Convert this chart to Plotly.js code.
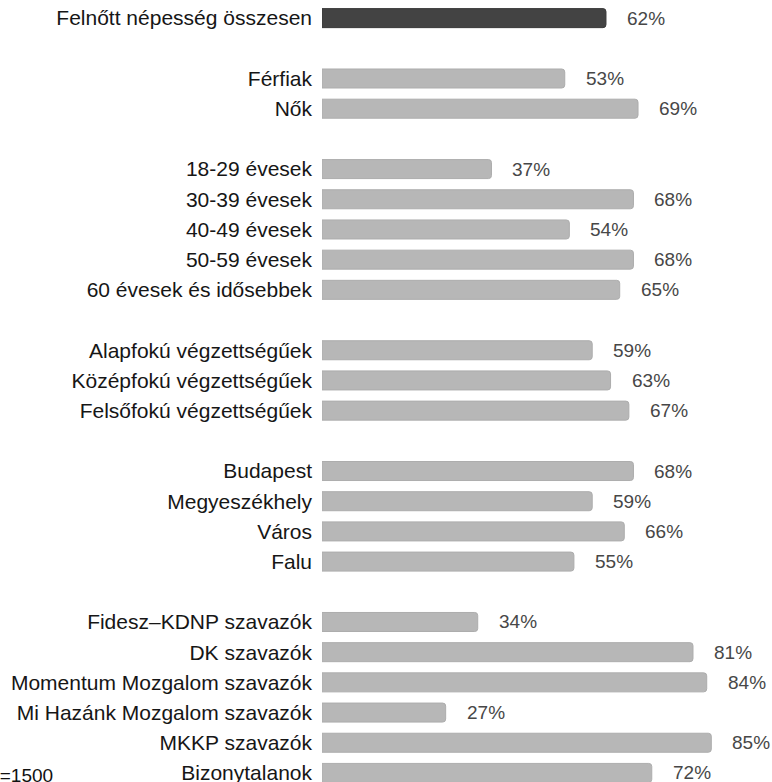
<!DOCTYPE html>
<html>
<head>
<meta charset="utf-8">
<script src="https://cdn.plot.ly/plotly-3.0.1.min.js"></script>
<style>html,body{margin:0;padding:0;background:#fff;}#chart{width:772px;height:782px;}</style>
</head>
<body>
<div id="chart"></div>
<script>
// categories (null = blank spacer row between groups)
const categories = [
  "Felnőtt népesség összesen", null,
  "Férfiak", "Nők", null,
  "18-29 évesek", "30-39 évesek", "40-49 évesek", "50-59 évesek", "60 évesek és idősebbek", null,
  "Alapfokú végzettségűek", "Középfokú végzettségűek", "Felsőfokú végzettségűek", null,
  "Budapest", "Megyeszékhely", "Város", "Falu", null,
  "Fidesz–KDNP szavazók", "DK szavazók", "Momentum Mozgalom szavazók", "Mi Hazánk Mozgalom szavazók", "MKKP szavazók", "Bizonytalanok"
];
const values = [
  62, null,
  53, 69, null,
  37, 68, 54, 68, 65, null,
  59, 63, 67, null,
  68, 59, 66, 55, null,
  34, 81, 84, 27, 85, 72
];
const highlight = [true];
const noteText = "N=1500";

const slots = [], vals = [], labels = [], colors = [], lineColors = [];
const tickvals = [], ticktext = [];
categories.forEach((c, i) => {
  if (c === null) return;
  slots.push(i);
  vals.push(values[i]);
  labels.push(values[i] + "%");
  const hi = highlight[i] === true;
  colors.push(hi ? "#434343" : "#b7b7b7");
  lineColors.push(hi ? "#3a3a3a" : "#adadad");
  tickvals.push(i);
  ticktext.push(c);
});

const trace = {
  type: "bar",
  orientation: "h",
  x: vals,
  y: slots,
  width: 0.63,
  marker: {color: colors, line: {color: lineColors, width: 1}},
  hoverinfo: "skip"
};

const annotations = vals.map((v, k) => ({
  x: v, y: slots[k], xref: "x", yref: "y",
  text: labels[k], showarrow: false,
  xanchor: "left", yanchor: "middle", xshift: 19,
  font: {family: "Liberation Sans, Arial, sans-serif", size: 19, color: "#474747"}
}));
annotations.push({
  xref: "paper", yref: "paper", x: (55 - 322) / 450, y: 1 - 775 / 782,
  text: noteText, showarrow: false, xanchor: "right", yanchor: "middle",
  font: {family: "Liberation Sans, Arial, sans-serif", size: 19, color: "#111"}
});

const layout = {
  width: 772, height: 782,
  margin: {l: 322, r: 0, t: 0, b: 0},
  paper_bgcolor: "#fff", plot_bgcolor: "#fff",
  showlegend: false,
  barcornerradius: 3,
  xaxis: {range: [0, 98.25], visible: false, fixedrange: true},
  yaxis: {
    range: [25.3, -0.6], tickmode: "array", tickvals: tickvals, ticktext: ticktext,
    showgrid: false, zeroline: false, showline: false, ticks: "",
    ticklabelstandoff: 9, ticklabeloverflow: "allow",
    tickfont: {family: "Liberation Sans, Arial, sans-serif", size: 21, color: "#161616"}
  },
  annotations: annotations
};

Plotly.newPlot("chart", [trace], layout, {displayModeBar: false, staticPlot: true});
</script>
</body>
</html>
